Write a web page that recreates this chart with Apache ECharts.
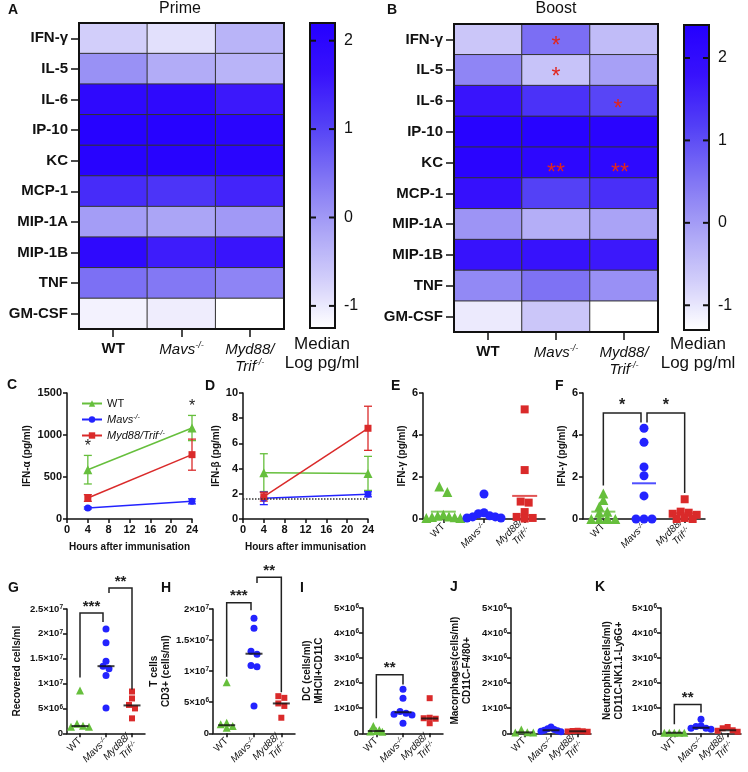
<!DOCTYPE html>
<html><head><meta charset="utf-8">
<script src="https://cdn.jsdelivr.net/npm/echarts@6/dist/echarts.min.js"></script>
<style>html,body{margin:0;padding:0;background:#fff}#c{width:748px;height:772px}</style>
</head><body><div id="c"></div><script>
// ---------------- DATA ----------------
const cytokines = ['IFN-γ','IL-5','IL-6','IP-10','KC','MCP-1','MIP-1A','MIP-1B','TNF','GM-CSF'];
const groups = ['WT','Mavs','Myd88'];
// Heatmap A (Prime), median log pg/ml, top -> bottom
const primeWT   = [-0.70, 0.10, 1.90, 2.15, 2.10, 1.30, -0.05, 1.90, 0.50, -1.10];
const primeMavs = [-0.90,-0.25, 1.90, 2.15, 2.10, 1.20, -0.15, 1.50, 0.40, -1.05];
const primeMyd  = [-0.35,-0.35, 1.55, 2.05, 2.05, 1.40,  0.00, 1.60, 0.25, -1.25];
// Heatmap B (Boost)
const boostWT   = [-0.60, 0.30, 1.75, 2.30, 2.25, 1.85,  0.10, 1.80, 0.25, -1.05];
const boostMavs = [ 0.60,-0.55, 1.35, 2.30, 2.15, 1.15, -0.25, 1.80, 0.55, -0.60];
const boostMyd  = [-0.45,-0.05, 1.10, 2.25, 2.10, 1.40, -0.10, 1.70, 0.15, -1.30];
const boostStarCells = [[1,0],[1,1],[2,2],[1,4],[2,4]];
const boostStarText  = ['*','*','*','**','**'];
const colorbarTicks = [-1,0,1,2];
const primeRange = [-1.25, 2.2];
const boostRange = [-1.3, 2.4];

// C: IFN-alpha
const hours = [4, 24];
const cWT = [587, 1083],  cWTerr = [170, 150];
const cMavs = [131, 210], cMavsErr = [12, 30];
const cMyd = [250, 766],  cMydErr = [40, 185];
const cStars = [[4, 905], [24, 1385]];
// D: IFN-beta
const dWT = [3.68, 3.62],  dWTerr = [1.5, 1.35];
const dMavs = [1.64, 1.96], dMavsErr = [0.5, 0.2];
const dMyd = [1.77, 7.2],  dMydErr = [0.35, 1.75];
const dLOD = 1.6;
// E: IFN-gamma
const eWT   = [1.55, 1.28, 0.20, 0.15, 0.12, 0.08, 0.05, 0.05, 0.10];
const eMavs = [1.19, 0.30, 0.25, 0.15, 0.10, 0.10, 0.05, 0.05];
const eMyd  = [5.22, 2.33, 0.83, 0.78, 0.33, 0.10, 0.05, 0.02];
const eMean = [0.35, 0.25, 1.10];
// F: IFN-gamma
const fWT   = [1.22, 0.90, 0.60, 0.35, 0.30, 0.05, 0.0, 0.0, 0.0, 0.0];
const fMavs = [4.32, 3.65, 2.48, 2.06, 1.10, 0.0, 0.0, 0.0];
const fMyd  = [0.94, 0.35, 0.30, 0.25, 0.20, 0.05, 0.0, 0.0];
const fMean = [0.35, 1.70, 0.27];
const fBrackets = [[0,1,5.05,1.6,4.6],[1,2,5.05,4.6,1.24]];
const fBracketText = ['*','*'];
// G: recovered cells
const gWT   = [8.6e6, 1.9e6, 1.5e6, 1.3e6, 1.3e6];
const gMavs = [2.1e7, 1.82e7, 1.45e7, 1.35e7, 1.3e7, 1.16e7, 5.1e6];
const gMyd  = [8.4e6, 7.0e6, 5.7e6, 5.0e6, 3.0e6];
const gMed  = [1.45e6, 1.35e7, 5.6e6];
const gBrackets = [[0,1,2.42e7,1.12e7,2.24e7],[1,2,2.92e7,2.82e7,8.8e6]];
const gBracketText = ['***','**'];
// H: T cells
const hWT   = [8.2e6, 1.7e6, 1.44e6, 1.17e6, 0.9e6];
const hMavs = [1.85e7, 1.69e7, 1.32e7, 1.27e7, 1.09e7, 1.07e7, 4.4e6];
const hMyd  = [5.97e6, 5.7e6, 4.8e6, 4.4e6, 2.5e6];
const hMed  = [1.3e6, 1.28e7, 4.8e6];
const hBrackets = [[0,1,2.1e7,9.1e6,1.98e7],[1,2,2.51e7,2.42e7,6.6e6]];
const hBracketText = ['***','**'];
// I: DC
const iWT   = [2.9e5, 1.3e5, 0.9e5, 0.7e5, 0.6e5];
const iMavs = [1.76e6, 1.4e6, 8.7e5, 8.0e5, 7.6e5, 7.3e5, 4.0e5];
const iMyd  = [1.4e6, 6.2e5, 6.0e5, 5.8e5, 4.0e5];
const iMed  = [0.9e5, 8.4e5, 5.9e5];
const iBrackets = [[0,1,2.34e6,6.0e5,1.95e6]];
const iBracketText = ['**'];
// J: Macrophages
const jWT   = [1.5e5, 0.4e5, 0.3e5, 0.3e5];
const jMavs = [2.5e5, 1.8e5, 1.5e5, 1.2e5, 1.0e5, 0.8e5, 0.6e5];
const jMyd  = [1.0e5, 0.9e5, 0.8e5, 0.7e5, 0.6e5];
const jMed  = [0.35e5, 1.2e5, 0.8e5];
// K: Neutrophils
const kWT   = [0.2e5, 0.2e5, 0.2e5, 0.2e5, 0.2e5];
const kMavs = [5.6e5, 3.0e5, 2.7e5, 2.0e5, 2.0e5, 1.6e5];
const kMyd  = [2.5e5, 2.0e5, 1.2e5, 1.0e5, 0.6e5];
const kMed  = [0.2e5, 2.2e5, 1.2e5];
const kBrackets = [[0,1,1.15e6,3.6e5,8.3e5]];
const kBracketText = ['**'];

// tick labels
const gTicks = ['0','5×10|6','1×10|7','1.5×10|7','2×10|7','2.5×10|7'];
const hTicks = ['0','5×10|6','1×10|7','1.5×10|7','2×10|7'];
const mTicks = ['0','1×10|6','2×10|6','3×10|6','4×10|6','5×10|6'];

// ---------------- STYLE / LAYOUT ----------------
const FONT = 'Arial, "Liberation Sans", Helvetica, sans-serif';
const GREEN = '#66bf3c', BLUE = '#2323ff', RED = '#da2a2a';
const heatColors = ['#ffffff','#d0ccfa','#a8a1f6','#7e72f4','#5340f6','#3812fc','#2500ff'];

const grids = [
  {left:79, top:23, width:205, height:306},   //0 A heat
  {left:310, top:23, width:25, height:305},   //1 A bar
  {left:454, top:24, width:204, height:308},  //2 B heat
  {left:684, top:25, width:25, height:305},   //3 B bar
  {left:67, top:393, width:125, height:126},  //4 C
  {left:243, top:393, width:125, height:126}, //5 D
  {left:423, top:393, width:122, height:126}, //6 E
  {left:583, top:393, width:122, height:126}, //7 F
  {left:67, top:609, width:78, height:125},   //8 G
  {left:213, top:609, width:82, height:125},  //9 H
  {left:363, top:608, width:80, height:126},  //10 I
  {left:511, top:608, width:80, height:126},  //11 J
  {left:661, top:608, width:80, height:126}   //12 K
];
grids.forEach((g,i)=>{ g.containLabel=false; if(i<4){ g.show=true; g.borderColor='#111'; g.borderWidth=2; g.backgroundColor='transparent'; g.z=10; } });

const heatRich = {
  b:{fontFamily:FONT, fontWeight:'bold', fontSize:15, color:'#111'},
  i:{fontFamily:FONT, fontStyle:'italic', fontSize:15, color:'#111', lineHeight:17},
  s:{fontFamily:FONT, fontStyle:'italic', fontSize:9, color:'#111', verticalAlign:'top'}
};
function heatLabel(v){ if(v==='WT') return '{b|WT}'; if(v==='Mavs') return '{i|Mavs}{s|-/-}'; return '{i|Myd88/}\n{i|Trif}{s|-/-}'; }
const smallRich = {
  n:{fontFamily:FONT, fontSize:10, color:'#111', lineHeight:11},
  i:{fontFamily:FONT, fontStyle:'italic', fontSize:10, color:'#111', lineHeight:11},
  s:{fontFamily:FONT, fontStyle:'italic', fontSize:7, color:'#111', verticalAlign:'top'}
};
function smallLabel(v){ if(v==='WT') return '{n|WT}'; if(v==='Mavs') return '{i|Mavs}{s|-/-}'; return '{i|Myd88/}\n{i|Trif}{s|-/-}'; }
const tickRich = {
  t:{fontFamily:FONT, fontWeight:'bold', fontSize:9.5, color:'#111'},
  s:{fontFamily:FONT, fontWeight:'bold', fontSize:6.5, color:'#111', verticalAlign:'top'}
};
function sciFormatter(labels, step){ return v=>{ const l = labels[Math.round(v/step)]; if(l===undefined) return ''; const p=l.split('|'); return p.length>1 ? '{t|'+p[0]+'}{s|'+p[1]+'}' : '{t|'+p[0]+'}'; }; }

const axLine = {show:true, lineStyle:{color:'#111', width:1.5}};
const axTick = {show:true, length:4, lineStyle:{color:'#111', width:1.5}};
const boldLbl = {fontFamily:FONT, fontWeight:'bold', fontSize:11, color:'#111', margin:5, formatter:v=>String(v)};
const nameStyle = {fontFamily:FONT, fontWeight:'bold', fontSize:10, color:'#111', lineHeight:12};

const xAxes = [], yAxes = [];
// heatmaps
[0,2].forEach(gi=>{
  xAxes[gi] = {gridIndex:gi, type:'category', data:groups, axisLine:{show:false},
    axisTick:{show:true, alignWithLabel:true, length:8, lineStyle:{color:'#111', width:1.5}},
    axisLabel:{interval:0, margin:12, formatter:heatLabel, rich:heatRich}, splitLine:{show:false}};
  yAxes[gi] = {gridIndex:gi, type:'category', data:cytokines, inverse:true, axisLine:{show:false},
    axisTick:{show:true, alignWithLabel:true, length:8, lineStyle:{color:'#111', width:1.5}},
    axisLabel:{interval:0, margin:11, fontFamily:FONT, fontWeight:'bold', fontSize:15, color:'#111'}, splitLine:{show:false}};
});
// colorbars (labels from axis, tick marks drawn by a custom series below)
[[1,primeRange],[3,boostRange]].forEach(([gi,r])=>{
  xAxes[gi] = {gridIndex:gi, type:'value', show:false, min:0, max:1};
  yAxes[gi] = {gridIndex:gi, type:'value', min:r[0], max:r[1], position:'right', z:12,
    axisLine:{show:false}, splitLine:{show:false}, axisTick:{show:false},
    axisLabel:{show:true, customValues:colorbarTicks, margin:9, fontFamily:FONT, fontSize:16, color:'#111'}};
});
// C, D
xAxes[4] = {gridIndex:4, type:'value', min:0, max:24, interval:4, axisLine:axLine, axisTick:axTick, axisLabel:boldLbl, splitLine:{show:false},
  name:'Hours after immunisation', nameLocation:'middle', nameGap:22, nameTextStyle:nameStyle};
yAxes[4] = {gridIndex:4, type:'value', min:0, max:1500, interval:500, axisLine:axLine, axisTick:axTick, axisLabel:boldLbl, splitLine:{show:false},
  name:'IFN-α (pg/ml)', nameLocation:'middle', nameGap:30, nameTextStyle:nameStyle};
xAxes[5] = {gridIndex:5, type:'value', min:0, max:24, interval:4, axisLine:axLine, axisTick:axTick, axisLabel:boldLbl, splitLine:{show:false},
  name:'Hours after immunisation', nameLocation:'middle', nameGap:22, nameTextStyle:nameStyle};
yAxes[5] = {gridIndex:5, type:'value', min:0, max:10, interval:2, axisLine:axLine, axisTick:axTick, axisLabel:boldLbl, splitLine:{show:false},
  name:'IFN-β (pg/ml)', nameLocation:'middle', nameGap:19, nameTextStyle:nameStyle};
// dot panels
const dotCfg = [
  [6, 0, 6, 2, null, 'IFN-γ (pg/ml)', 15],
  [7, 0, 6, 2, null, 'IFN-γ (pg/ml)', 15],
  [8, 0, 2.5e7, 5e6, gTicks, 'Recovered cells/ml', 44],
  [9, 0, 2e7, 5e6, hTicks, 'T cells\nCD3+ (cells/ml)', 38],
  [10, 0, 5e6, 1e6, mTicks, 'DC (cells/ml)\nMHCII+CD11C', 38],
  [11, 0, 5e6, 1e6, mTicks, 'Macorphages(cells/ml)\nCD11C-F4/80+', 38],
  [12, 0, 5e6, 1e6, mTicks, 'Neutrophils(cells/ml)\nCD11C-NK1.1-Ly6G+', 36]
];
dotCfg.forEach(([gi,mn,mx,iv,ticks,name,gap])=>{
  xAxes[gi] = {gridIndex:gi, type:'category', data:groups, axisLine:axLine,
    axisTick:{show:true, alignWithLabel:true, length:4, lineStyle:{color:'#111', width:1.5}},
    axisLabel:{interval:0, rotate:45, margin:6, formatter:smallLabel, rich:smallRich}, splitLine:{show:false}};
  const lbl = ticks ? {margin:4, formatter:sciFormatter(ticks, iv), rich:tickRich} : boldLbl;
  yAxes[gi] = {gridIndex:gi, type:'value', min:mn, max:mx, interval:iv, axisLine:axLine, axisTick:axTick, axisLabel:lbl,
    splitLine:{show:false}, name:name, nameLocation:'middle', nameGap:gap, nameTextStyle:nameStyle};
});

// ---------------- SERIES ----------------
function heatData(cols){ const d=[]; cols.forEach((arr,xi)=>arr.forEach((v,yi)=>d.push([xi,yi,v]))); return d; }
const series = [];
series.push({type:'heatmap', xAxisIndex:0, yAxisIndex:0, data:heatData([primeWT,primeMavs,primeMyd]),
  itemStyle:{borderColor:'#333', borderWidth:1}, emphasis:{disabled:true}});
series.push({type:'heatmap', xAxisIndex:2, yAxisIndex:2, data:heatData([boostWT,boostMavs,boostMyd]),
  itemStyle:{borderColor:'#333', borderWidth:1}, emphasis:{disabled:true}});

// colorbar tick marks (inside, both edges), positioned through the colorbar's value axis
function colorbarTickSeries(gi){
  return {type:'custom', xAxisIndex:gi, yAxisIndex:gi, silent:true, z:20, clip:false, data:colorbarTicks.map(v=>[0,v]),
    renderItem:(p,api)=>{ const a=api.coord([0,api.value(1)]), b=api.coord([1,api.value(1)]); const st={stroke:'#111', lineWidth:2};
      return {type:'group', children:[
        {type:'line', shape:{x1:a[0],y1:a[1],x2:a[0]+6,y2:a[1]}, style:st},
        {type:'line', shape:{x1:b[0]-6,y1:b[1],x2:b[0],y2:b[1]}, style:st}]}; }};
}
series.push(colorbarTickSeries(1), colorbarTickSeries(3));

function textMarks(gi, pts, texts, style, offs){
  return {type:'custom', xAxisIndex:gi, yAxisIndex:gi, silent:true, z:8, clip:false, data:pts,
    renderItem:(p,api)=>{ const c=api.coord([api.value(0),api.value(1)]); const o=offs?offs[p.dataIndex]:[0,0];
      return {type:'text', x:c[0]+o[0], y:c[1]+o[1], style:Object.assign({text:texts[p.dataIndex], align:'center', verticalAlign:'middle', textAlign:'center', textVerticalAlign:'middle'}, style)}; }};
}
series.push(textMarks(2, boostStarCells, boostStarText, {fontFamily:FONT, fontSize:23, fill:'#e0261f'},
  [[0,7],[0,7],[-6,9],[0,11],[-4,11]]));

function errBars(gi, xs, ms, es, color){
  return {type:'custom', xAxisIndex:gi, yAxisIndex:gi, silent:true, z:3, data:xs.map((x,i)=>[x,ms[i],es[i]]),
    renderItem:(p,api)=>{ const x=api.value(0), m=api.value(1), e=api.value(2);
      const a=api.coord([x,m+e]), b=api.coord([x,m-e]);
      const st={stroke:color, lineWidth:1.3};
      return {type:'group', children:[
        {type:'line', shape:{x1:a[0],y1:a[1],x2:b[0],y2:b[1]}, style:st},
        {type:'line', shape:{x1:a[0]-4,y1:a[1],x2:a[0]+4,y2:a[1]}, style:st},
        {type:'line', shape:{x1:b[0]-4,y1:b[1],x2:b[0]+4,y2:b[1]}, style:st}]}; }};
}
function lineSer(name, gi, ys, color, symbol, size){
  return {name, type:'line', xAxisIndex:gi, yAxisIndex:gi, data:hours.map((h,i)=>[h,ys[i]]), symbol, symbolSize:size,
    itemStyle:{color}, lineStyle:{color, width:1.5}, z:4, emphasis:{disabled:true}};
}
series.push(lineSer('cWT',4,cWT,GREEN,'triangle',9));
series.push(lineSer('cMavs',4,cMavs,BLUE,'circle',7));
series.push(lineSer('cMyd',4,cMyd,RED,'rect',7));
series.push(errBars(4,hours,cWT,cWTerr,GREEN), errBars(4,hours,cMavs,cMavsErr,BLUE), errBars(4,hours,cMyd,cMydErr,RED));
series.push(textMarks(4, cStars, ['*','*'], {fontFamily:FONT, fontSize:16, fill:'#222'}, [[0,4],[0,4]]));
series.push(lineSer('dWT',5,dWT,GREEN,'triangle',9), lineSer('dMavs',5,dMavs,BLUE,'circle',7), lineSer('dMyd',5,dMyd,RED,'rect',7));
series.push(errBars(5,hours,dWT,dWTerr,GREEN), errBars(5,hours,dMavs,dMavsErr,BLUE), errBars(5,hours,dMyd,dMydErr,RED));
series.push({type:'line', xAxisIndex:5, yAxisIndex:5, data:[], silent:true, z:2,
  markLine:{symbol:'none', silent:true, label:{show:false}, lineStyle:{type:'dotted', color:'#333', width:1.5}, data:[{yAxis:dLOD}]}});

// spread points of similar value horizontally (beeswarm-like rows)
function spreadOffsets(vals, thr, step, maxW){
  const idx = vals.map((v,i)=>i).sort((a,b)=>vals[b]-vals[a]);
  const off = new Array(vals.length).fill(0);
  let i=0;
  while(i<idx.length){ let j=i; while(j+1<idx.length && vals[idx[i]]-vals[idx[j+1]]<thr) j++;
    const k=j-i+1; const s = k>1 ? Math.min(step, maxW/(k-1)) : 0;
    const pos = []; for(let m=0;m<k;m++) pos.push((m-(k-1)/2)*s);
    pos.sort((a,b)=>Math.abs(a)-Math.abs(b) || a-b);
    for(let m=0;m<k;m++) off[idx[i+m]] = pos[m];
    i=j+1; }
  return off;
}
function dotGroup(gi, g, vals, color, symbol, size, thr, step, maxW){
  const off = spreadOffsets(vals, thr, step, maxW);
  return {type:'scatter', xAxisIndex:gi, yAxisIndex:gi, symbol, symbolSize:size, itemStyle:{color, opacity:1}, z:3,
    emphasis:{disabled:true}, data:vals.map((v,i)=>({value:[g,v], symbolOffset:[off[i],0]}))};
}
function centerLines(gi, vals, colors, w){
  return {type:'scatter', xAxisIndex:gi, yAxisIndex:gi, symbol:'rect', symbolSize:[w,2], z:5, emphasis:{disabled:true},
    data:vals.map((v,i)=>({value:[i,v], itemStyle:{color:colors[i]}}))};
}
function brackets(gi, items, texts, fs){
  return {type:'custom', xAxisIndex:gi, yAxisIndex:gi, silent:true, clip:false, z:6, data:items,
    renderItem:(p,api)=>{
      const x1=api.value(0), x2=api.value(1), yt=api.value(2), yl=api.value(3), yr=api.value(4);
      const pl=api.coord([x1,yl]), pr=api.coord([x2,yr]), tl=api.coord([x1,yt]), tr=api.coord([x2,yt]);
      const gapL = (items.length>1 && p.dataIndex===1) ? 3 : 0, gapR = (items.length>1 && p.dataIndex===0) ? 3 : 0;
      const xa=pl[0]+gapL, xb=pr[0]-gapR;
      return {type:'group', children:[
        {type:'polyline', shape:{points:[[xa,pl[1]],[xa,tl[1]],[xb,tr[1]],[xb,pr[1]]]}, style:{stroke:'#222', lineWidth:1.5, fill:'none'}},
        {type:'text', x:(xa+xb)/2, y:tl[1]+1, style:{text:texts[p.dataIndex], align:'center', verticalAlign:'bottom', textAlign:'center', textVerticalAlign:'bottom',
          fontFamily:FONT, fontSize:fs, fontWeight:'bold', fill:'#222'}}]};
    }};
}
const bigDot = (gi, a, b, c, thr, step, maxW, sz)=>[
  dotGroup(gi,0,a,GREEN,'triangle',sz+1,thr,step,maxW),
  dotGroup(gi,1,b,BLUE,'circle',sz,thr,step,maxW),
  dotGroup(gi,2,c,RED,'rect',sz-1,thr,step,maxW)];
series.push(...bigDot(6,eWT,eMavs,eMyd,0.3,8,34,9), centerLines(6,eMean,[GREEN,BLUE,RED],25));
series.push(...bigDot(7,fWT,fMavs,fMyd,0.3,8,34,9), centerLines(7,fMean,[GREEN,BLUE,RED],24), brackets(7,fBrackets,fBracketText,16));
const blk=['#111','#111','#111'];
series.push(...bigDot(8,gWT,gMavs,gMyd,1.0e6,6,20,7), centerLines(8,gMed,blk,17), brackets(8,gBrackets,gBracketText,15));
series.push(...bigDot(9,hWT,hMavs,hMyd,0.8e6,6,20,7), centerLines(9,hMed,blk,17), brackets(9,hBrackets,hBracketText,15));
series.push(...bigDot(10,iWT,iMavs,iMyd,0.2e6,6,20,7), centerLines(10,iMed,blk,17), brackets(10,iBrackets,iBracketText,15));
series.push(...bigDot(11,jWT,jMavs,jMyd,0.2e6,6,20,7), centerLines(11,jMed,blk,17));
series.push(...bigDot(12,kWT,kMavs,kMyd,0.2e6,6,20,7), centerLines(12,kMed,blk,17), brackets(12,kBrackets,kBracketText,15));

// ---------------- GRAPHICS (titles / letters) ----------------
function txt(x,y,text,font,align){ return {type:'text', x, y, silent:true, z:20,
  style:{text, font, fill:'#111', align:align||'center', verticalAlign:'middle', textAlign:align||'center', textVerticalAlign:'middle'}}; }
const LB = 'bold 14px '+FONT;
const graphic = [
  txt(8,10,'A',LB,'left'), txt(387,10,'B',LB,'left'),
  txt(7,385,'C',LB,'left'), txt(205,386,'D',LB,'left'), txt(391,386,'E',LB,'left'), txt(555,386,'F',LB,'left'),
  txt(8,588,'G',LB,'left'), txt(161,588,'H',LB,'left'), txt(300,588,'I',LB,'left'), txt(450,587,'J',LB,'left'), txt(595,587,'K',LB,'left'),
  txt(180,9,'Prime','16px '+FONT), txt(556,9,'Boost','16px '+FONT),
  txt(322,344,'Median','17px '+FONT), txt(322,363,'Log pg/ml','17px '+FONT),
  txt(698,344,'Median','17px '+FONT), txt(698,363,'Log pg/ml','17px '+FONT)
];

const option = {
  backgroundColor:'#fff', animation:false, textStyle:{fontFamily:FONT},
  grid:grids, xAxis:xAxes, yAxis:yAxes, series, graphic,
  visualMap:[
    {type:'continuous', seriesIndex:0, dimension:2, min:primeRange[0], max:primeRange[1], inRange:{color:heatColors},
     orient:'vertical', left:310, top:23, itemWidth:25, itemHeight:305, calculable:false, padding:0, z:1, hoverLink:false},
    {type:'continuous', seriesIndex:1, dimension:2, min:boostRange[0], max:boostRange[1], inRange:{color:heatColors},
     orient:'vertical', left:684, top:25, itemWidth:25, itemHeight:305, calculable:false, padding:0, z:1, hoverLink:false}
  ],
  legend:{left:76, top:393, orient:'vertical', itemWidth:20, itemHeight:8, itemGap:5, data:['cWT','cMavs','cMyd'],
    formatter:n=>({cWT:'{n|WT}', cMavs:'{i|Mavs}{s|-/-}', cMyd:'{i|Myd88/Trif}{s|-/-}'})[n],
    textStyle:{fontFamily:FONT, fontSize:11, color:'#111', rich:{
      n:{fontFamily:FONT, fontSize:11, color:'#111'}, i:{fontFamily:FONT, fontStyle:'italic', fontSize:11, color:'#111'},
      s:{fontFamily:FONT, fontStyle:'italic', fontSize:7, color:'#111', verticalAlign:'top'}}}}
};
const chart = echarts.init(document.getElementById('c'));
chart.setOption(option);
</script></body></html>
